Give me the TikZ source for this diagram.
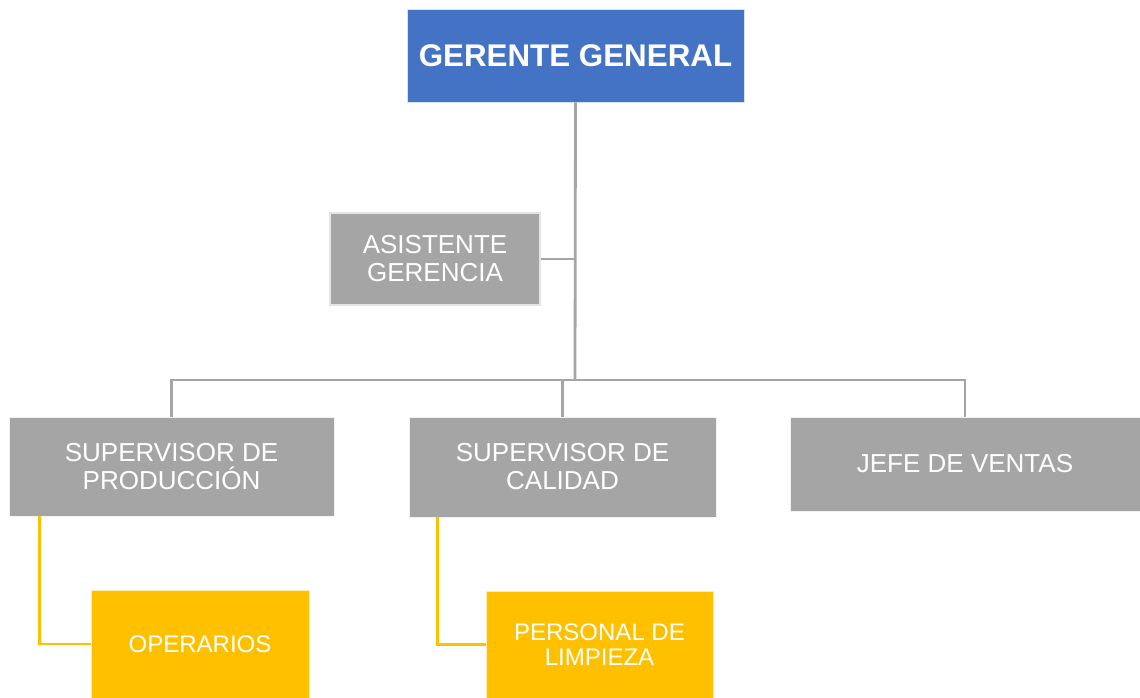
\documentclass[tikz,border=0pt]{standalone}
\usepackage{fontspec}
\setmainfont{Liberation Sans}
\usepackage{xcolor}
\usepackage{tikz}
\usetikzlibrary{calc}

\definecolor{jefeblue}{HTML}{4472C4}
\definecolor{cajagray}{HTML}{A5A5A5}
\definecolor{cajayellow}{HTML}{FFC000}

\begin{document}
\begin{tikzpicture}[x=0.75pt,y=-0.75pt,
  caja/.style={rectangle,inner sep=0pt,align=center,text=white,
    fill=cajagray,draw=white!85!cajagray,line width=0.6pt,
    font=\fontsize{19.5pt}{21pt}\selectfont},
  jefe/.style={caja,fill=jefeblue,draw=white!80!jefeblue,
    font=\fontsize{23.5pt}{25pt}\selectfont\bfseries},
  operativo/.style={caja,fill=cajayellow,draw=white!70!cajayellow,
    font=\fontsize{18pt}{19pt}\selectfont},
  linea/.style={draw=cajagray,line width=2.1pt},
  lineaop/.style={draw=cajayellow,line width=1.8pt}]

\useasboundingbox (0,0) rectangle (1140,698);

	\node[jefe,minimum width=252.75pt,minimum height=69.75pt] (ger) at (575.5,55.5) {GERENTE GENERAL};% top box
	\node[caja,minimum width=157.5pt,minimum height=69pt,draw=white!70!cajagray,line width=2pt] (asis) at (435,259) {ASISTENTE\\GERENCIA};% staff box

	\node[caja,minimum width=243.75pt,minimum height=74.25pt] (prod) at (171.5,466.5) {SUPERVISOR DE\\PRODUCCIÓN};
	\node[caja,minimum width=230.25pt,minimum height=75pt] (cal) at (562.5,467) {SUPERVISOR DE\\CALIDAD};
	\node[caja,minimum width=262.5pt,minimum height=70.5pt] (vent) at (965,464) {JEFE DE VENTAS};

	\node[operativo,minimum width=163.5pt,minimum height=81pt] (oper) at (200,644) {OPERARIOS};
	\node[operativo,minimum width=170.25pt,minimum height=80.25pt] (limp) at (599.5,644.5) {PERSONAL DE\\LIMPIEZA};

\coordinate (bus) at (575,380);
\draw[linea] (ger.south) -- (bus);
\draw[linea] (asis.east) -- (asis.east -| bus);
\draw[linea] (prod.north) -- (prod.north |- bus) -| (vent.north);
\draw[linea] (cal.north) -- (cal.north |- bus);

\draw[lineaop] ($(prod.south west)+(31,0)$) |- (oper.west);
\draw[lineaop] ($(cal.south west)+(29,0)$) |- (limp.west);

\end{tikzpicture}
\end{document}
